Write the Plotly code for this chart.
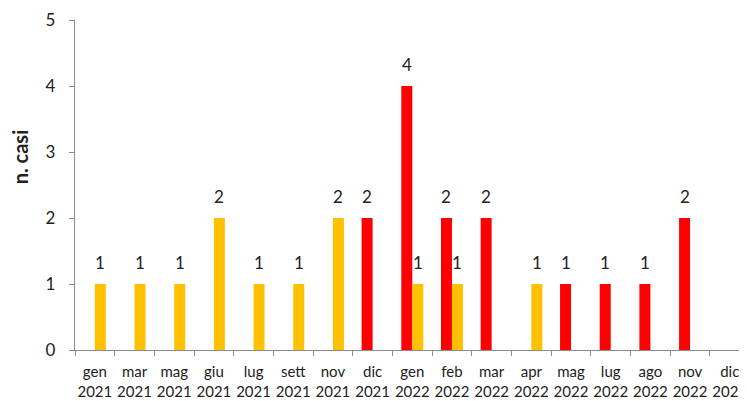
import plotly.graph_objects as go

categories = ["gen<br>2021", "mar<br>2021", "mag<br>2021", "giu<br>2021", "lug<br>2021",
              "sett<br>2021", "nov<br>2021", "dic<br>2021", "gen<br>2022", "feb<br>2022",
              "mar<br>2022", "apr<br>2022", "mag<br>2022", "lug<br>2022", "ago<br>2022",
              "nov<br>2022", "dic<br>2022"]
red_values = [None, None, None, None, None, None, None, 2, 4, 2, 2, None, 1, 1, 1, 2, None]
yellow_values = [1, 1, 1, 2, 1, 1, 2, None, 1, 1, None, 1, None, None, None, None, None]
y_ticks = [0, 1, 2, 3, 4, 5]

RED = "#FF0000"
YELLOW = "#FFC000"
FONT = "Lato, Carlito, sans-serif"

# page body has an 8px default margin; the figure is sized to fill the rest
OFF = 8
W, H = 747 - OFF, 401 - OFF
L, R, T, B = 74.7 - OFF, 0, 20 - OFF, 51
plot_w = W - L - R
plot_h = H - T - B
cat_w = 39.7

fig = go.Figure()
fig.add_trace(go.Bar(x=categories, y=red_values, name="serie rossa",
                     marker=dict(color=RED, line=dict(width=0))))
fig.add_trace(go.Bar(x=categories, y=yellow_values, name="serie gialla",
                     marker=dict(color=YELLOW, line=dict(width=0))))

annotations = []
for vals, shift in ((red_values, -5.5), (yellow_values, 5.5)):
    for c, v in zip(categories, vals):
        if v:
            annotations.append(dict(x=c, y=v, xref="x", yref="y", text=str(v),
                                    showarrow=False, xshift=shift, yshift=22,
                                    yanchor="middle",
                                    font=dict(family=FONT, size=17, color="#222")))
annotations.append(dict(x=(20 - 74.7) / plot_w, y=(350 - 157) / plot_h,
                        xref="paper", yref="paper",
                        text="<b>n. casi</b>", textangle=-90, showarrow=False,
                        xanchor="center", yanchor="middle",
                        font=dict(family=FONT, size=20, color="#222")))

fig.update_layout(
    template="none",
    width=W, height=H,
    margin=dict(l=L, r=R, t=T, b=B, pad=0),
    paper_bgcolor="white", plot_bgcolor="white",
    barmode="group", bargap=0.446, bargroupgap=0,
    showlegend=False,
    annotations=annotations,
    xaxis=dict(type="category", range=[-0.5, -0.5 + plot_w / cat_w],
               showline=True, linecolor="#8c8c8c", linewidth=1.3,
               ticks="outside", tickson="boundaries", ticklen=5,
               tickcolor="#8c8c8c", tickwidth=1.3, tickangle=0,
               ticklabelstandoff=8,
               showgrid=False, zeroline=False, automargin=False,
               tickfont=dict(family=FONT, size=15, color="#222")),
    yaxis=dict(range=[0, 5], tickvals=y_ticks, showline=True, linecolor="#8c8c8c",
               linewidth=1.3, ticks="outside", ticklen=5, tickcolor="#8c8c8c",
               tickwidth=1.3, showgrid=False, zeroline=False, automargin=False,
               ticklabelstandoff=10,
               tickfont=dict(family=FONT, size=17, color="#222")),
)

fig.write_html("out.html")
